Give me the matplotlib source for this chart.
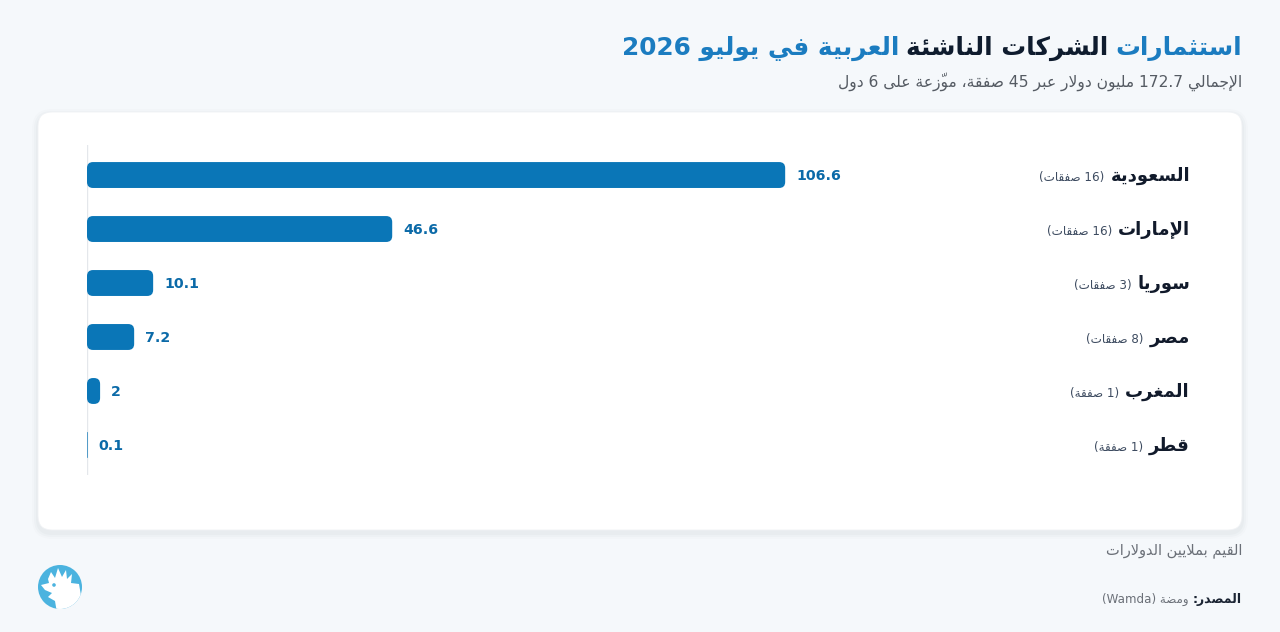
import re
import matplotlib
matplotlib.use('Agg')
import matplotlib.pyplot as plt
from matplotlib.patches import FancyBboxPatch, Circle, Polygon

plt.rcParams['font.family'] = ['DejaVu Sans']

# chart data
countries = ['السعودية', 'الإمارات', 'سوريا', 'مصر', 'المغرب', 'قطر']
deal_labels = ['(16 صفقات)', '(16 صفقات)', '(3 صفقات)', '(8 صفقات)', '(1 صفقة)', '(1 صفقة)']
amounts = [106.6, 46.6, 10.1, 7.2, 2, 0.1]

title_parts = ['استثمارات', 'الشركات الناشئة', 'العربية في يوليو 2026']
title_colors = ['#1b7cc0', '#0f1c2e', '#1b7cc0']
subtitle = 'الإجمالي 172.7 مليون دولار عبر 45 صفقة، موزّعة على 6 دول'
units_note = 'القيم بملايين الدولارات'
source_label = 'المصدر:'
source_text = 'ومضة (Wamda)'

BG = '#f5f8fb'
BAR = '#0a76b7'


# --- minimal Arabic shaping + bidi (matplotlib has no complex text layout) ---
def build_forms():
    counts = [1, 2, 2, 2, 2, 4, 2, 4, 2, 4, 4, 4, 4, 4, 2, 2, 2, 2,
              4, 4, 4, 4, 4, 4, 4, 4, 4, 4, 4, 4, 4, 4, 4, 2, 2, 4]
    cps = list(range(0x621, 0x63B)) + list(range(0x641, 0x64B))
    forms, pos = {}, 0xFE80
    for cp, n in zip(cps, counts):
        forms[chr(cp)] = tuple(chr(pos + k) for k in range(n))
        pos += n
    return forms


FORMS = build_forms()
LAM_ALEF = {'\u0622': 0xFEF5, '\u0623': 0xFEF7, '\u0625': 0xFEF9, '\u0627': 0xFEFB}
MARKS = set(chr(c) for c in range(0x64B, 0x653))
MIRROR = {'(': ')', ')': '('}


def shape(s):
    out, prev, i = [], None, 0
    while i < len(s):
        c = s[i]
        if c in MARKS:
            out.append(c)
            i += 1
            continue
        if c not in FORMS:
            out.append(c)
            prev = c
            i += 1
            continue
        j = i + 1
        while j < len(s) and s[j] in MARKS:
            j += 1
        nxt = s[j] if j < len(s) else None
        p = prev in FORMS and len(FORMS[prev]) == 4
        if c == '\u0644' and nxt in LAM_ALEF:
            out.append(chr(LAM_ALEF[nxt] + (1 if p else 0)))
            prev = nxt
            i = j + 1
            continue
        f = FORMS[c]
        n = nxt in FORMS and len(FORMS[nxt]) > 1 and len(f) == 4
        if len(f) == 1:
            g = f[0]
        elif p and n:
            g = f[3]
        elif p:
            g = f[1]
        elif n:
            g = f[2]
        else:
            g = f[0]
        out.append(g)
        prev = c
        i += 1
    return ''.join(out)


def ar(s):
    s = shape(s)
    runs = re.findall(r'[A-Za-z0-9]+(?:[.,][0-9]+)*|[^A-Za-z0-9]+', s)
    out = []
    for r in reversed(runs):
        if re.match(r'[A-Za-z0-9]', r):
            out.append(r)
            continue
        clusters = []
        for ch in r:
            if ch in MARKS and clusters:
                clusters[-1] += ch
            else:
                clusters.append(ch)
        out.append(''.join(MIRROR.get(c, c) for c in reversed(clusters)))
    return ''.join(out)


fig = plt.figure(figsize=(12.8, 6.32), dpi=100, facecolor=BG)

# background layer in pixel coordinates
bg = fig.add_axes([0, 0, 1, 1])
bg.set_xlim(0, 1280)
bg.set_ylim(632, 0)
bg.axis('off')

# card with a soft shadow
for k, a in [(6, 0.012), (4, 0.018), (2, 0.025)]:
    bg.add_patch(FancyBboxPatch((38 - k, 112 - k + 3), 1204 + 2 * k, 418 + 2 * k,
                                boxstyle='round,pad=0,rounding_size=%d' % (14 + k),
                                facecolor='#1b2a44', edgecolor='none', alpha=a))
bg.add_patch(FancyBboxPatch((38, 112), 1204, 418,
                            boxstyle='round,pad=0,rounding_size=14',
                            facecolor='white', edgecolor='#f0f2f5', linewidth=0.6))

# title, coloured parts laid out right to left
TSIZE = 17.8
t = bg.text(1242, 55, ar(title_parts[0]), ha='right', va='baseline',
            fontsize=TSIZE, fontweight='bold', color=title_colors[0])
for part, col in zip(title_parts[1:], title_colors[1:]):
    t = bg.annotate(ar(part), xy=(0, 55), xycoords=(t, 'data'),
                    xytext=(-7, 0), textcoords='offset pixels',
                    ha='right', va='baseline', fontsize=TSIZE,
                    fontweight='bold', color=col)

bg.text(1242, 87, ar(subtitle), ha='right', va='baseline',
        fontsize=11.2, color='#555b63')

# footer
bg.text(1242, 554, ar(units_note), ha='right', va='baseline',
        fontsize=10.5, color='#6b7078')
s = bg.text(1242, 603, ar(source_label), ha='right', va='baseline',
            fontsize=9, fontweight='bold', color='#1b2433')
bg.annotate(ar(source_text), xy=(0, 603), xycoords=(s, 'data'),
            xytext=(-4, 0), textcoords='offset pixels',
            ha='right', va='baseline', fontsize=8.6, color='#6b7078')

# logo
logo = Circle((60, 587), 22, facecolor='#4bb3df', edgecolor='none')
bg.add_patch(logo)
cx, cy = 60, 587
rooster = [(-12, -8), (-9, -15), (-5, -9), (-2, -19), (2, -10), (6, -17), (7, -8),
           (12, -13), (11, -4), (19, -3), (24, 26), (-3, 26), (-5, 14), (-12, 10),
           (-8, 6), (-15, 3), (-19, -2), (-11, -4)]
poly = Polygon([(cx + dx, cy + dy) for dx, dy in rooster], closed=True,
               facecolor='white', edgecolor='none')
bg.add_patch(poly)
poly.set_clip_path(logo)
bg.add_patch(Circle((cx - 6, cy - 2), 1.8, facecolor='#4bb3df', edgecolor='none'))

# bar chart axes (pixels 87..1000 x 145..475)
ax = fig.add_axes([87 / 1280, 1 - 475 / 632, 913 / 1280, 330 / 632])
ax.set_facecolor('none')
ax.set_xlim(0, 139.4)
ax.set_ylim(len(amounts) - 0.444, -0.556)
ax.axis('off')
ax.axvline(0, color='#e4e7eb', linewidth=1, zorder=0)

px_x = 913 / 139.4
px_y = 330 / (len(amounts) - 0.444 + 0.556)
bar_h = 0.48
for i, (v, name, deals) in enumerate(zip(amounts, countries, deal_labels)):
    r = min(6 / px_x, v / 2)
    ax.add_patch(FancyBboxPatch((0, i - bar_h / 2), v, bar_h,
                                boxstyle='round,pad=0,rounding_size=%f' % r,
                                mutation_aspect=px_x / px_y,
                                facecolor=BAR, edgecolor='none'))
    ax.annotate(f'{v:g}', xy=(v, i), xytext=(11, -5), textcoords='offset pixels',
                ha='left', va='baseline', fontsize=10.2, fontweight='bold',
                color='#0b6aa8')
    nt = ax.annotate(ar(name), xy=((1190 - 87) / 913, i),
                     xycoords=ax.get_yaxis_transform(),
                     xytext=(0, -6), textcoords='offset pixels',
                     ha='right', va='baseline', fontsize=13, fontweight='bold',
                     color='#111a2b', annotation_clip=False)
    ax.annotate(ar(deals), xy=(0, i), xycoords=(nt, 'data'),
                xytext=(-6, -6), textcoords='offset pixels',
                ha='right', va='baseline', fontsize=8.6, color='#3d4b60',
                annotation_clip=False)

fig.savefig('out.png', dpi=100, facecolor=BG)
